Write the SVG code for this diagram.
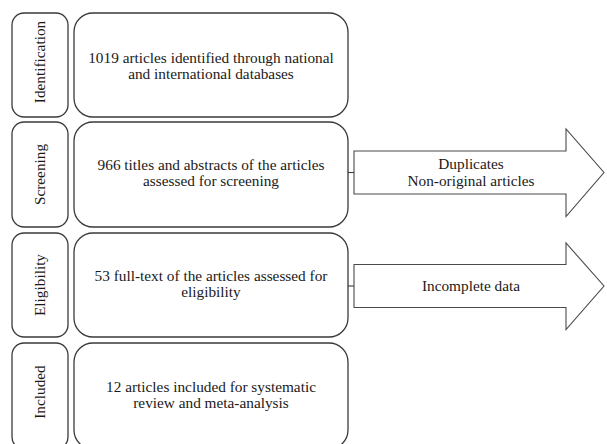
<svg xmlns="http://www.w3.org/2000/svg" width="607" height="444" viewBox="0 0 607 444">
<style>
.lbl{fill:#fff;stroke:#3a3a3a;stroke-width:1.3}
.main{fill:#fff;stroke:#3a3a3a;stroke-width:1.3}
.arrow{fill:#fff;stroke:#4a4a4a;stroke-width:1.1}
.conn{stroke:#3a3a3a;stroke-width:1.1;fill:none}
.t{font-family:'Liberation Serif','Times New Roman',serif;font-size:15.3px;fill:#1a1a1a;text-anchor:middle}
</style>
<rect width="607" height="444" fill="#fff"/>
<g id="connectors">
<line class="conn" x1="348" y1="172.5" x2="354" y2="172.5"/>
<line class="conn" x1="348" y1="286" x2="354" y2="286"/>
</g>
<g id="stage-identification">
<rect class="lbl" x="12" y="13" width="56" height="104" rx="12"/>
<text class="t" transform="translate(45,62) rotate(-90)">Identification</text>
</g>
<g id="box-identification">
<rect class="main" x="74" y="13" width="274" height="104" rx="19"/>
<text class="t" x="211" y="63">1019 articles identified through national</text>
<text class="t" x="211" y="79">and international databases</text>
</g>
<g id="stage-screening">
<rect class="lbl" x="12" y="122" width="56" height="105" rx="12"/>
<text class="t" transform="translate(45,174.5) rotate(-90)">Screening</text>
</g>
<g id="box-screening">
<rect class="main" x="74" y="122" width="274" height="105" rx="19"/>
<text class="t" x="211" y="170">966 titles and abstracts of the articles</text>
<text class="t" x="211" y="186">assessed for screening</text>
</g>
<g id="stage-eligibility">
<rect class="lbl" x="12" y="233" width="56" height="104" rx="12"/>
<text class="t" transform="translate(45,285) rotate(-90)">Eligibility</text>
</g>
<g id="box-eligibility">
<rect class="main" x="74" y="233" width="274" height="104" rx="19"/>
<text class="t" x="211" y="281">53 full-text of the articles assessed for</text>
<text class="t" x="211" y="297">eligibility</text>
</g>
<g id="stage-included">
<rect class="lbl" x="12" y="343" width="56" height="106" rx="12"/>
<text class="t" transform="translate(45,392) rotate(-90)">Included</text>
</g>
<g id="box-included">
<rect class="main" x="74" y="343" width="274" height="106" rx="19"/>
<text class="t" x="211" y="392">12 articles included for systematic</text>
<text class="t" x="211" y="408">review and meta-analysis</text>
</g>
<g id="excluded-screening">
<polygon class="arrow" points="354,151 566,151 566,129 604,172.5 566,216.5 566,194 354,194"/>
<text class="t" x="471" y="169">Duplicates</text>
<text class="t" x="471" y="186">Non-original articles</text>
</g>
<g id="excluded-eligibility">
<polygon class="arrow" points="354,264.5 566,264.5 566,243 604,286 566,329.5 566,307.5 354,307.5"/>
<text class="t" x="471" y="291">Incomplete data</text>
</g>
</svg>
